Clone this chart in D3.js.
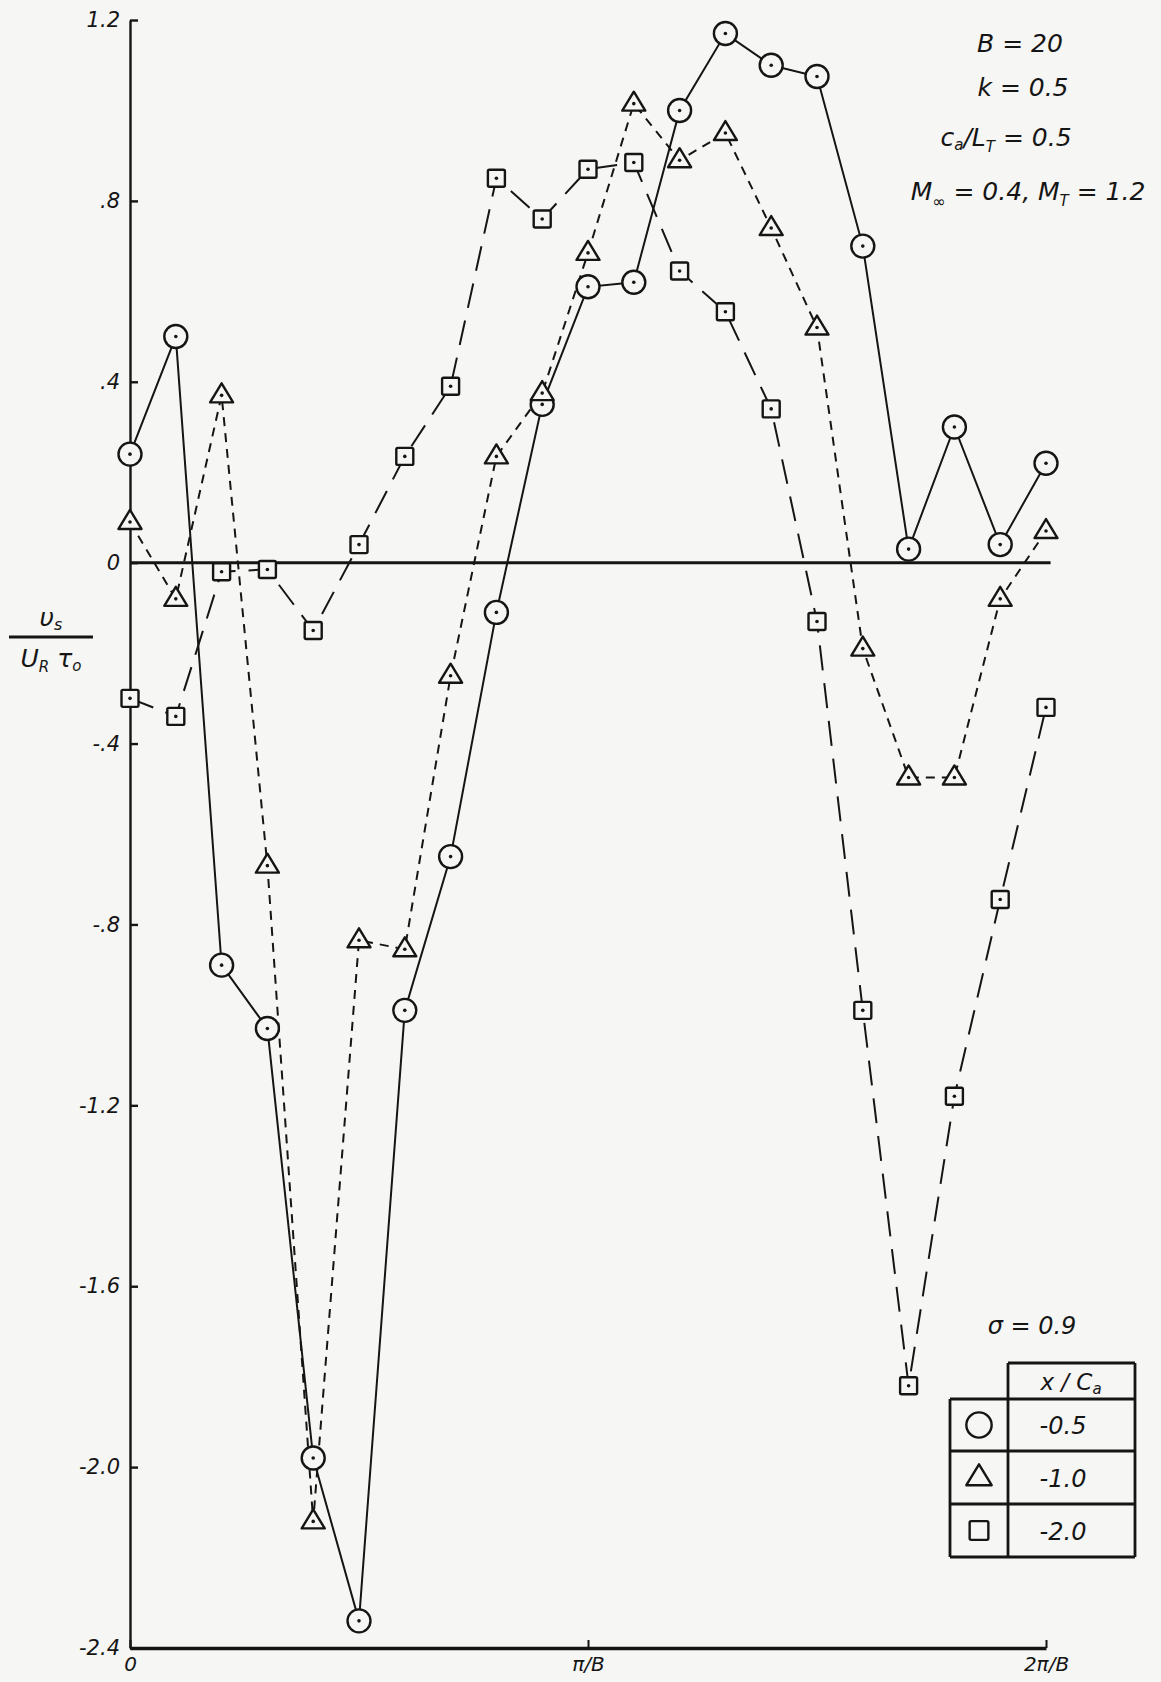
<html>
<head>
<meta charset="utf-8">
<script src="https://d3js.org/d3.v7.min.js"></script>
<style>
    body { margin: 0; background: #f6f6f4; }
    svg { display: block; }
    text { font-family: "DejaVu Sans", sans-serif; font-style: oblique; fill: #151515; }
</style>
</head>
<body>
<svg id="chart" width="1161" height="1682"></svg>
<script>
// phase position, in units of pi/B
var phase = [0, 0.1, 0.2, 0.3, 0.4, 0.5, 0.6, 0.7, 0.8, 0.9, 1.0,
             1.1, 1.2, 1.3, 1.4, 1.5, 1.6, 1.7, 1.8, 1.9, 2.0];

// v_s / (U_R tau_o) for each x/Ca
var circleVals = [0.24, 0.50, -0.89, -1.03, -1.98, -2.34, -0.99, -0.65, -0.11, 0.35, 0.61,
                  0.62, 1.00, 1.17, 1.10, 1.075, 0.70, 0.03, 0.30, 0.04, 0.22];
var triangleVals = [0.09, -0.08, 0.37, -0.67, -2.12, -0.835, -0.855, -0.25, 0.235, 0.375, 0.685,
                    1.015, 0.89, 0.95, 0.74, 0.52, -0.19, -0.475, -0.475, -0.08, 0.07];
var squareVals = [-0.30, -0.34, -0.02, -0.015, -0.15, 0.04, 0.235, 0.39, 0.85, 0.76, 0.87,
                  0.885, 0.645, 0.555, 0.34, -0.13, -0.99, -1.82, -1.18, -0.745, -0.32];

var yTicks = [1.2, 0.8, 0.4, 0, -0.4, -0.8, -1.2, -1.6, -2.0, -2.4];
var yTickLabels = ["1.2", ".8", ".4", "0", "-.4", "-.8", "-1.2", "-1.6", "-2.0", "-2.4"];
var xTicks = [0, 1, 2];
var xTickLabels = ["0", "\u03c0/B", "2\u03c0/B"];

var legendLabels = ["-0.5", "-1.0", "-2.0"];
var paramLines = ["B = 20", "k = 0.5"];

var bg = "#f6f6f4";
var ink = "#151515";

var svg = d3.select("#chart");

var x = d3.scaleLinear().domain([0, 2]).range([130, 1046]);
var y = d3.scaleLinear().domain([-2.4, 1.2]).range([1648, 20]);

// y axis with ticks pointing into the plot
var yAxis = svg.append("g")
    .attr("transform", "translate(" + x(0) + ",0)")
    .call(d3.axisLeft(y)
        .tickValues(yTicks)
        .tickSizeInner(-8)
        .tickSizeOuter(0)
        .tickPadding(10)
        .tickFormat(function (d, i) { return yTickLabels[i]; }));
yAxis.select(".domain").attr("stroke", ink).attr("stroke-width", 2.4);
yAxis.selectAll(".tick line").attr("stroke", ink).attr("stroke-width", 2.4);
yAxis.selectAll(".tick text")
    .attr("font-size", 21)
    .attr("font-family", "DejaVu Sans, sans-serif")
    .attr("font-style", "oblique")
    .attr("fill", ink);

// x axis at the bottom
var xAxis = svg.append("g")
    .attr("transform", "translate(0," + y(-2.4) + ")")
    .call(d3.axisBottom(x)
        .tickValues(xTicks)
        .tickSizeInner(-8)
        .tickSizeOuter(0)
        .tickPadding(9)
        .tickFormat(function (d, i) { return xTickLabels[i]; }));
xAxis.select(".domain").attr("stroke", ink).attr("stroke-width", 3.5);
xAxis.selectAll(".tick line").attr("stroke", ink).attr("stroke-width", 2);
xAxis.selectAll(".tick text")
    .attr("font-size", 20)
    .attr("font-family", "DejaVu Sans, sans-serif")
    .attr("font-style", "oblique")
    .attr("fill", ink);

// zero line
svg.append("line")
    .attr("x1", x(0)).attr("x2", x(2.01))
    .attr("y1", y(0)).attr("y2", y(0))
    .attr("stroke", ink).attr("stroke-width", 3);

// y label as a fraction
var yl = svg.append("g").attr("transform", "translate(51,637)");
var num = yl.append("text").attr("text-anchor", "middle").attr("y", -11).attr("font-size", 25);
num.append("tspan").text("\u03c5");
num.append("tspan").attr("font-size", 16).attr("dy", 4).text("s");
yl.append("line").attr("x1", -42).attr("x2", 42).attr("y1", 0).attr("y2", 0)
    .attr("stroke", ink).attr("stroke-width", 2.8);
var den = yl.append("text").attr("text-anchor", "middle").attr("y", 30).attr("font-size", 25);
den.append("tspan").text("U");
den.append("tspan").attr("font-size", 15).attr("dy", 5).text("R");
den.append("tspan").attr("dy", -5).text(" \u03c4");
den.append("tspan").attr("font-size", 15).attr("dy", 4).text("o");

// series
var series = [
    { vals: circleVals, dash: null, shape: "circle" },
    { vals: triangleVals, dash: "9,7", shape: "triangle" },
    { vals: squareVals, dash: "25,13", shape: "square" }
];

var line = d3.line()
    .x(function (d, i) { return x(phase[i]); })
    .y(function (d) { return y(d); });

series.forEach(function (s) {
    svg.append("path")
        .datum(s.vals)
        .attr("d", line)
        .attr("fill", "none")
        .attr("stroke", ink)
        .attr("stroke-width", 2)
        .attr("stroke-dasharray", s.dash);
});

function drawMarker(g, shape, big) {
    var k = big ? 1.1 : 1;
    if (shape == "circle") {
        g.append("circle").attr("r", 11.5 * k);
    } else if (shape == "triangle") {
        g.append("path").attr("d", "M0," + (-12 * k) + "L" + (11.5 * k) + "," + (7 * k) + "L" + (-11.5 * k) + "," + (7 * k) + "Z");
    } else {
        g.append("rect").attr("x", -8.5 * k).attr("y", -8.5 * k)
            .attr("width", 17 * k).attr("height", 17 * k).attr("rx", 1.5);
    }
    g.selectAll("circle, path, rect")
        .attr("fill", bg)
        .attr("stroke", ink)
        .attr("stroke-width", 2.4)
        .attr("stroke-linejoin", "round");
}

series.forEach(function (s) {
    var pts = svg.append("g").selectAll("g")
        .data(s.vals)
        .enter()
        .append("g")
        .attr("transform", function (d, i) { return "translate(" + x(phase[i]) + "," + y(d) + ")"; });
    pts.each(function () { drawMarker(d3.select(this), s.shape, false); });
    pts.append("circle").attr("r", 1.8).attr("fill", ink);
});

// parameter block, top right
var params = svg.append("g").attr("font-size", 25);
params.append("text").attr("x", 1020).attr("y", 52).attr("text-anchor", "middle").text(paramLines[0]);
params.append("text").attr("x", 1023).attr("y", 96).attr("text-anchor", "middle").text(paramLines[1]);
var p3 = params.append("text").attr("x", 1006).attr("y", 146).attr("text-anchor", "middle");
p3.append("tspan").text("c");
p3.append("tspan").attr("font-size", 15).attr("dy", 4).text("a");
p3.append("tspan").attr("dy", -4).text("/L");
p3.append("tspan").attr("font-size", 15).attr("dy", 6).text("T");
p3.append("tspan").attr("dy", -6).text(" = 0.5");
var p4 = params.append("text").attr("x", 1028).attr("y", 200).attr("text-anchor", "middle");
p4.append("tspan").text("M");
p4.append("tspan").attr("font-size", 16).attr("dy", 7).text("\u221e");
p4.append("tspan").attr("dy", -7).text(" = 0.4, M");
p4.append("tspan").attr("font-size", 15).attr("dy", 6).text("T");
p4.append("tspan").attr("dy", -6).text(" = 1.2");

// legend table
var lg = svg.append("g");
lg.append("text").attr("x", 1032).attr("y", 1334).attr("text-anchor", "middle")
    .attr("font-size", 24).text("\u03c3 = 0.9");

var tblL = 950, tblM = 1008, tblR = 1135;
var rowTop = [1363, 1399, 1451, 1504, 1557];
var tbl = lg.append("g").attr("stroke", ink).attr("stroke-width", 2.8).attr("fill", "none");
tbl.append("line").attr("x1", tblM).attr("x2", tblR).attr("y1", rowTop[0]).attr("y2", rowTop[0]);
tbl.append("line").attr("x1", tblM).attr("x2", tblM).attr("y1", rowTop[0]).attr("y2", rowTop[4]);
tbl.append("line").attr("x1", tblR).attr("x2", tblR).attr("y1", rowTop[0]).attr("y2", rowTop[4]);
tbl.append("line").attr("x1", tblL).attr("x2", tblL).attr("y1", rowTop[1]).attr("y2", rowTop[4]);
[1, 2, 3, 4].forEach(function (r) {
    tbl.append("line").attr("x1", tblL).attr("x2", tblR).attr("y1", rowTop[r]).attr("y2", rowTop[r]);
});

var hdr = lg.append("text").attr("x", 1071).attr("y", 1390).attr("text-anchor", "middle").attr("font-size", 23);
hdr.append("tspan").text("x / C");
hdr.append("tspan").attr("font-size", 15).attr("dy", 4).text("a");

["circle", "triangle", "square"].forEach(function (shape, i) {
    var cy = (rowTop[i + 1] + rowTop[i + 2]) / 2;
    var g = lg.append("g").attr("transform", "translate(" + 979 + "," + cy + ")");
    drawMarker(g, shape, true);
    lg.append("text").attr("x", 1063).attr("y", cy + 9).attr("text-anchor", "middle")
        .attr("font-size", 24).text(legendLabels[i]);
});
</script>
</body>
</html>
